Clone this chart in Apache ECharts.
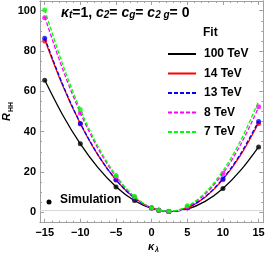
<!DOCTYPE html>
<html>
<head>
<meta charset="utf-8">
<script src="https://cdn.jsdelivr.net/npm/echarts@6/dist/echarts.min.js"></script>
<style>html,body{margin:0;padding:0;background:#fff;}#c{width:266px;height:257px;}</style>
</head>
<body>
<div id="c"></div>
<script>
// Fit curves at these kappa_lambda values
const kappaFit = [-15, -12.5, -10, -7.5, -5, -2.5, 0, 2.5, 5, 7.5, 10, 12.5, 15];
const fit100 = [65.6, 48.4, 33.9, 22.0, 12.7, 6.0, 1.9, 0.45, 1.6, 5.4, 11.8, 20.9, 32.5];
const fit14  = [85.7, 63.0, 43.9, 28.2, 16.0, 7.3, 2.1, 0.4, 2.2, 7.5, 16.3, 28.5, 44.3];
const fit13  = [86.5, 63.6, 44.2, 28.4, 16.1, 7.3, 2.1, 0.4, 2.3, 7.7, 16.7, 29.2, 45.2];
const fit8   = [97.0, 71.2, 49.3, 31.5, 17.7, 7.9, 2.2, 0.45, 2.7, 9.0, 19.3, 33.7, 52.0];
const fit7   = [100.5, 73.6, 50.9, 32.5, 18.2, 8.1, 2.2, 0.5, 3.0, 9.7, 20.6, 35.7, 55.0];

// Simulation points
const kappaSim = [-15, -10, -5, -2.4, 0, 1, 2.4, 5, 10, 15];
const sim100 = [65.5, 34.0, 12.6, 5.8, 1.9, 1.0, 0.45, 1.7, 11.8, 32.4];
const sim14  = [85.0, 43.8, 16.0, 7.0, 2.1, 1.0, 0.4, 2.2, 16.2, 44.0];
const sim13  = [86.3, 44.1, 16.2, 7.0, 2.1, 1.0, 0.4, 2.3, 16.6, 45.0];
const sim8   = [96.5, 49.2, 17.6, 7.6, 2.2, 1.0, 0.45, 2.7, 19.3, 52.4];
const sim7   = [100.3, 51.0, 18.3, 7.8, 2.2, 1.0, 0.5, 3.2, null, null];

const seriesNames = ['100 TeV', '14 TeV', '13 TeV', '8 TeV', '7 TeV'];
const xMajor = [-15, -10, -5, 0, 5, 10, 15];
const xMinor = [];
for (let v = -15; v <= 15; v++) xMinor.push(v);
const yMajor = [0, 20, 40, 60, 80, 100];
const yMinor = [0, 5, 10, 15, 20, 25, 30, 35, 40, 45, 50, 55, 60, 65, 70, 75, 80, 85, 90, 95, 100];
const refLine = 1;

const fits = [fit100, fit14, fit13, fit8, fit7];
const sims = [sim100, sim14, sim13, sim8, sim7];
const colors = ['#000000', '#ff0000', '#0000ff', '#ff00ff', '#00ff00'];
const dashed = [false, false, true, true, true];

const FONT = 'Liberation Sans, Arial, sans-serif';
const frameColor = '#a0a0a0';
const XMIN = -15.66, XMAX = 15.66, YMIN = -5.16, YMAX = 104.8;

function xAx(pos, ticks, len, labels) {
  return {
    type: 'value', position: pos, min: XMIN, max: XMAX,
    axisLine: { show: true, onZero: false, lineStyle: { color: frameColor, width: 1 } },
    axisTick: { show: true, inside: true, length: len, customValues: ticks, lineStyle: { color: frameColor } },
    axisLabel: labels ? { show: true, customValues: xMajor, formatter: v => (v < 0 ? '\u2212' + (-v) : '' + v),
      color: '#000', fontFamily: FONT, fontWeight: 'bold', fontSize: 11, margin: 5 } : { show: false },
    splitLine: { show: false }
  };
}
function yAx(pos, ticks, len, labels) {
  return {
    type: 'value', position: pos, min: YMIN, max: YMAX,
    axisLine: { show: true, onZero: false, lineStyle: { color: frameColor, width: 1 } },
    axisTick: { show: true, inside: true, length: len, customValues: ticks, lineStyle: { color: frameColor } },
    axisLabel: labels ? { show: true, customValues: yMajor, color: '#000', fontFamily: FONT, fontWeight: 'bold', fontSize: 11, margin: 4 } : { show: false },
    splitLine: { show: false }
  };
}

const series = [];
fits.forEach((f, i) => {
  series.push({
    name: seriesNames[i], type: 'line', xAxisIndex: 0, yAxisIndex: 0,
    data: kappaFit.map((k, j) => [k, f[j]]),
    smooth: 0.33, symbol: 'none',
    lineStyle: { color: colors[i], width: 1.3, type: dashed[i] ? [4, 2] : 'solid' },
    itemStyle: { color: colors[i] },
    z: 2 + i * 2,
    markLine: i === 0 ? { silent: true, symbol: 'none', label: { show: false },
      lineStyle: { color: '#d8d8d8', width: 1, type: 'solid' }, data: [{ yAxis: refLine }] } : undefined
  });
  series.push({
    name: 'sim' + i, type: 'scatter', xAxisIndex: 0, yAxisIndex: 0,
    data: kappaSim.map((k, j) => [k, sims[i][j]]).filter(p => p[1] !== null),
    symbol: 'circle', symbolSize: 5,
    itemStyle: { color: colors[i] },
    z: 3 + i * 2
  });
});

function txt(x, y, s, size, italic, rot) {
  return { type: 'text', x: x, y: y, rotation: rot || 0, style: {
    text: s, fontFamily: FONT, fontWeight: 'bold', fontStyle: italic ? 'italic' : 'normal',
    fontSize: size, fill: '#000', align: 'center', verticalAlign: 'middle' } };
}

const chart = echarts.init(document.getElementById('c'), null, { renderer: 'canvas' });
chart.setOption({
  animation: false,
  backgroundColor: '#fff',
  grid: { left: 40, right: 2.7, top: 1, bottom: 34.3, containLabel: false, outerBoundsMode: 'none' },
  xAxis: [xAx('bottom', xMajor, 4, true), xAx('bottom', xMinor, 2, false), xAx('top', xMajor, 4, false), xAx('top', xMinor, 2, false)],
  yAxis: [yAx('left', yMajor, 4, true), yAx('left', yMinor, 2, false), yAx('right', yMajor, 4, false), yAx('right', yMinor, 2, false)],
  legend: {
    data: seriesNames, orient: 'vertical', left: 167, top: 48, padding: 0,
    itemWidth: 28, itemHeight: 14, itemGap: 7.5,
    itemStyle: { opacity: 0 },
    textStyle: { color: '#000', fontFamily: FONT, fontWeight: 'bold', fontSize: 12, padding: [0, 0, 0, 3] }
  },
  graphic: [
    { type: 'text', left: 61, top: 6, style: {
      text: '{k|κ}{s|t}{n|=1, }{k|c}{s|2}{n|= }{k|c}{s|g}{n|= }{k|c}{s|2 g}{n|= 0}',
      rich: {
        k: { fontFamily: FONT, fontWeight: 'bold', fontStyle: 'italic', fontSize: 14, lineHeight: 16, verticalAlign: 'bottom', fill: '#000' },
        n: { fontFamily: FONT, fontWeight: 'bold', fontSize: 14, lineHeight: 16, verticalAlign: 'bottom', fill: '#000' },
        s: { fontFamily: FONT, fontWeight: 'bold', fontStyle: 'italic', fontSize: 10, lineHeight: 6, verticalAlign: 'bottom', fill: '#000' }
      } } },
    { type: 'text', left: 203, top: 27, style: { text: 'Fit', fontFamily: FONT, fontWeight: 'bold', fontSize: 12, fill: '#000' } },
    { type: 'circle', shape: { cx: 49, cy: 202, r: 2.5 }, style: { fill: '#000' } },
    { type: 'text', left: 60, top: 194, style: { text: 'Simulation', fontFamily: FONT, fontWeight: 'bold', fontSize: 12, fill: '#000' } },
    txt(151, 247, 'κ', 11, true),
    txt(157, 250, 'λ', 7, true),
    txt(7, 117, 'R', 11, true, Math.PI / 2),
    txt(11, 107, 'HH', 7, false, Math.PI / 2)
  ],
  series: series
});
</script>
</body>
</html>
